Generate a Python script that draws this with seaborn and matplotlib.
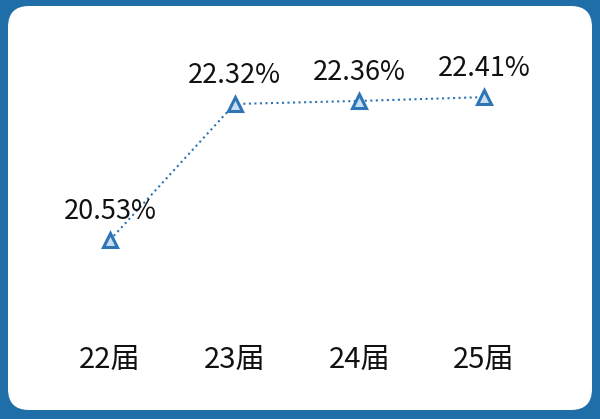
import numpy as np
import pandas as pd
import matplotlib.pyplot as plt
import seaborn as sns
from matplotlib.patches import FancyBboxPatch

# Data
classes = ['22届', '23届', '24届', '25届']
rates = [20.53, 22.32, 22.36, 22.41]
labels = ['20.53%', '22.32%', '22.36%', '22.41%']

df = pd.DataFrame({'class': classes, 'rate': rates})

sns.set_style('white')
plt.rcParams['font.family'] = ['Noto Sans CJK SC', 'DejaVu Sans']

fig = plt.figure(figsize=(6, 4.19), dpi=100)
fig.patch.set_facecolor('#1f6ea8')

# white rounded panel behind the axes
panel = FancyBboxPatch((8 / 600, 9 / 419), 584 / 600, 404 / 419,
                       boxstyle='round,pad=0,rounding_size=0.035',
                       transform=fig.transFigure, facecolor='white',
                       edgecolor='none', mutation_aspect=600 / 419, zorder=-5)
fig.patches.append(panel)

ax = fig.add_axes([0, 89 / 419, 1, 330 / 419])
ax.set_facecolor('none')
ax.set_zorder(2)

sns.lineplot(data=df, x='class', y='rate', ax=ax, sort=False,
             color='#2e75b6', linestyle=':', linewidth=1.5,
             marker='^', markersize=10, markeredgewidth=2.2,
             markeredgecolor='#2e75b6', markerfacecolor='#c9def2')

for i, (v, t) in enumerate(zip(rates, labels)):
    ax.annotate(t, (i, v), xytext=(0, 15), textcoords='offset points',
                ha='center', va='baseline', fontsize=19.5, color='#111111')

ax.set_xlim(-0.882, 3.93)
ax.set_ylim(19.346, 23.688)
ax.set_yticks([])
ax.set_xlabel('')
ax.set_ylabel('')
ax.tick_params(axis='x', length=0, pad=11, labelsize=21, labelcolor='#111111')
for s in ax.spines.values():
    s.set_visible(False)

plt.savefig('out.png', dpi=100, facecolor=fig.get_facecolor())
